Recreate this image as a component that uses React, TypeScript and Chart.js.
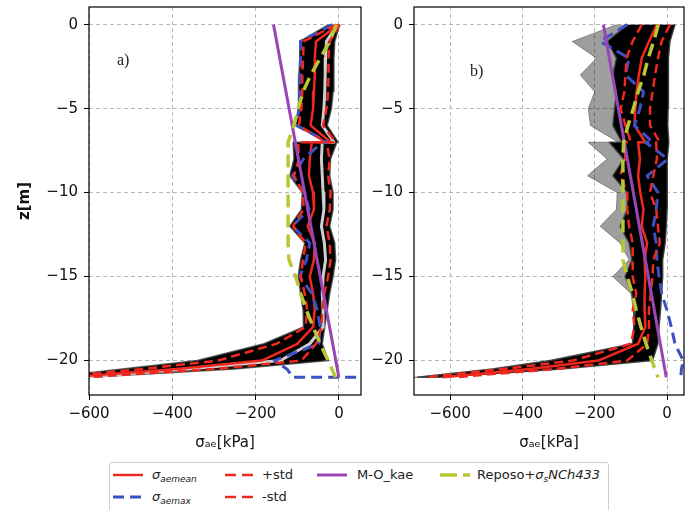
import React, { useEffect, useRef } from "react";
import { Chart, registerables } from "chart.js";

Chart.register(...registerables);
Chart.defaults.font.family = "'DejaVu Sans', sans-serif";

// ---------- shared depths (m) ----------
const depths = [0, -1, -2, -3, -4, -5, -6, -7, -7, -8, -9, -10, -11, -12, -13, -14, -15, -16, -17, -18, -19, -20, -20.5, -21];
const reposoDepths = [0, -1, -2, -3, -4, -5, -6, -7, -8, -9, -10, -11, -12, -13, -14, -15, -16, -17, -18, -19, -20, -21];
const moDepths = [0, -21];
const yTicks = [0, -5, -10, -15, -20];
const xTicks = [-600, -400, -200, 0];

// ---------- panel a) values (kPa) ----------
const aSimLeft = [-25, -94, -94, -96, -96, -98, -104, -30, -110, -108, -118, -88, -90, -118, -82, -92, -98, -92, -86, -85, -180, -340, -520, -700];
const aSimRight = [2, -10, -12, -12, -14, -18, -28, -2, -5, -20, -22, -14, -14, -22, -10, -8, -14, -22, -28, -34, -40, -25, -250, -600];
const aSimLight = [-3, -30, -32, -33, -34, -36, -40, -12, -40, -42, -40, -38, -36, -42, -35, -32, -38, -40, -38, -38, -70, -140, -360, -620];
const aMean = [-2, -55, -58, -58, -60, -62, -68, -20, -65, -70, -72, -62, -60, -75, -58, -60, -70, -62, -58, -62, -100, -185, -390, -650];
const aPlusStd = [-6, -85, -86, -88, -88, -90, -96, -32, -98, -96, -108, -86, -85, -110, -80, -86, -92, -82, -76, -80, -150, -290, -470, -690];
const aMinusStd = [2, -22, -25, -25, -26, -30, -38, -8, -30, -22, -26, -20, -22, -30, -22, -20, -26, -35, -40, -42, -55, -90, -300, -610];
const aMaxDepths = [0, -1, -2, -3, -4, -5, -6, -7, -7, -8, -9, -10, -11, -12, -13, -14, -15, -16, -17, -18, -19, -20, -20.5, -21, -21];
const aMax = [-15, -92, -92, -93, -94, -96, -102, -25, -40, -85, -112, -82, -72, -112, -70, -78, -94, -65, -52, -45, -48, -155, -125, -110, 80];
const aMO = [-157, 0];
const aReposo = [-6, -22, -45, -68, -86, -98, -108, -122, -122, -122, -122, -122, -122, -122, -120, -104, -92, -78, -62, -45, -26, -8];

// ---------- panel b) values (kPa) ----------
const bSimGray = [-140, -262, -195, -240, -200, -218, -212, -135, -218, -166, -220, -138, -140, -185, -130, -105, -150, -100, -93, -92, -97, -330, -490, -700];
const bSimLeft = [-110, -165, -140, -150, -140, -145, -150, -125, -160, -120, -150, -110, -110, -130, -105, -97, -116, -97, -88, -92, -95, -320, -480, -690];
const bSimRight = [22, 8, 5, 4, 3, 3, 2, 5, 5, 2, 0, 0, 0, -2, -5, -12, -12, -15, -18, -22, -25, -40, -290, -630];
const bMean = [-28, -50, -70, -78, -84, -88, -90, -60, -80, -75, -80, -74, -65, -70, -55, -62, -60, -62, -62, -60, -80, -190, -380, -620];
const bPlusStd = [-70, -95, -112, -115, -118, -128, -115, -100, -120, -115, -130, -110, -110, -105, -95, -95, -95, -85, -95, -90, -100, -260, -450, -670];
const bMinusStd = [8, -15, -25, -33, -40, -47, -47, -20, -30, -28, -38, -47, -30, -25, -20, -38, -40, -45, -50, -50, -55, -110, -310, -590];
const bMax = [-110, -185, -105, -115, -65, -75, -90, -40, -60, 2, -55, -25, -30, -38, -30, -28, -22, -15, 0, 12, 22, 45, 40, 38];
const bMO = [-176, -2];
const bReposo = [-24, -37, -52, -64, -80, -93, -108, -120, -122, -122, -122, -122, -122, -122, -122, -110, -96, -85, -72, -58, -42, -25];

const RED = "#f0281e";
const BLUE = "#3d4fc4";
const PURPLE = "#9a45b5";
const YELLOW = "#b9c832";

const pts = (xs: number[], zs: number[]) => xs.map((x, i) => ({ x, y: zs[i] }));
const shape = (left: number[], right: number[], zs: number[]) => [
  ...pts(left, zs),
  ...pts(right, zs).reverse(),
];

const framePlugin = {
  id: "frame",
  afterDatasetsDraw(chart: any) {
    const { ctx, chartArea: a } = chart;
    ctx.save();
    ctx.strokeStyle = "#000";
    ctx.lineWidth = 1.2;
    ctx.strokeRect(a.left, a.top, a.right - a.left, a.bottom - a.top);
    ctx.restore();
  },
};

type Panel = {
  xMin: number;
  xMax: number;
  left: number[];
  right: number[];
  gray?: number[];
  light?: number[];
  mean: number[];
  plus: number[];
  minus: number[];
  maxZ: number[];
  maxV: number[];
  mo: number[];
  rep: number[];
  yTitle: boolean;
  yWidth: number;
  padRight: number;
};

const base = { showLine: true, pointRadius: 0, pointHoverRadius: 0, clip: 0, fill: false, tension: 0, borderJoinStyle: "round" as const };

function makeConfig(p: Panel): any {
  const ds: any[] = [
    { ...base, label: "Reposo", data: pts(p.rep, reposoDepths), borderColor: YELLOW, borderWidth: 3.5, borderDash: [13, 7], order: 0 },
    { ...base, label: "M-O_kae", data: pts(p.mo, moDepths), borderColor: PURPLE, borderWidth: 3, order: 1 },
    { ...base, label: "-std", data: pts(p.minus, depths), borderColor: RED, borderWidth: 2.5, borderDash: [9, 5], order: 2 },
    { ...base, label: "+std", data: pts(p.plus, depths), borderColor: RED, borderWidth: 2.5, borderDash: [9, 5], order: 3 },
    { ...base, label: "max", data: pts(p.maxV, p.maxZ), borderColor: BLUE, borderWidth: 3, borderDash: [11, 6], order: 4 },
    { ...base, label: "mean", data: pts(p.mean, depths), borderColor: RED, borderWidth: 2.5, order: 5 },
  ];
  if (p.light) {
    ds.push({ ...base, label: "sim light", data: pts(p.light, depths), borderColor: "#cfcfcf", borderWidth: 3, order: 6 });
  }
  ds.push({
    ...base,
    label: "sims",
    data: shape(p.left, p.right, depths),
    fill: "shape",
    backgroundColor: "#000",
    borderColor: "rgba(60,60,60,0.8)",
    borderWidth: 1.5,
    order: 7,
  });
  if (p.gray) {
    ds.push({
      ...base,
      label: "sims outer",
      data: shape(p.gray, p.right, depths),
      fill: "shape",
      backgroundColor: "rgba(0,0,0,0.38)",
      borderColor: "rgba(0,0,0,0.35)",
      borderWidth: 1,
      order: 8,
    });
  }
  const tickFont = { size: 15, family: "'DejaVu Sans', sans-serif" };
  return {
    type: "scatter",
    data: { datasets: ds },
    plugins: [framePlugin],
    options: {
      indexAxis: "y",
      animation: false,
      responsive: false,
      devicePixelRatio: 1,
      events: [],
      layout: { padding: { top: 7, right: p.padRight, left: 0, bottom: 0 } },
      plugins: { legend: { display: false }, tooltip: { enabled: false } },
      scales: {
        x: {
          type: "linear",
          min: p.xMin,
          max: p.xMax,
          afterBuildTicks: (s: any) => { s.ticks = xTicks.map((v) => ({ value: v })); },
          afterFit: (s: any) => { s.height = 65; s.paddingLeft = 0; s.paddingRight = 0; },
          ticks: {
            autoSkip: false,
            maxRotation: 0,
            padding: 5,
            color: "#111",
            font: tickFont,
            callback: (v: number) => (v < 0 ? "\u2212" + Math.abs(v) : String(v)),
          },
          grid: { color: "#b8b8b8", lineWidth: 1, tickColor: "#000", tickLength: 5, tickWidth: 1 },
          border: { display: false, dash: [4, 3] },
          title: { display: true, text: "σₐₑ[kPa]", color: "#111", font: { size: 15 }, padding: { top: 0, bottom: 8 } },
        },
        y: {
          type: "linear",
          min: -22.05,
          max: 1.05,
          afterBuildTicks: (s: any) => { s.ticks = yTicks.map((v) => ({ value: v })); },
          afterFit: (s: any) => { s.width = p.yWidth; s.paddingTop = 0; s.paddingBottom = 0; },
          ticks: {
            autoSkip: false,
            padding: 6,
            color: "#111",
            font: tickFont,
            callback: (v: number) => (v < 0 ? "\u2212" + Math.abs(v) : String(v)),
          },
          grid: { color: "#b8b8b8", lineWidth: 1, tickColor: "#000", tickLength: 5, tickWidth: 1 },
          border: { display: false, dash: [4, 3] },
          title: { display: p.yTitle, text: "z[m]", color: "#111", font: { size: 15, weight: "bold" }, padding: { top: 16, bottom: 0 } },
        },
      },
    },
  };
}

const panelA: Panel = {
  xMin: -600, xMax: 53,
  left: aSimLeft, right: aSimRight, light: aSimLight,
  mean: aMean, plus: aPlusStd, minus: aMinusStd,
  maxZ: aMaxDepths, maxV: aMax, mo: aMO, rep: aReposo,
  yTitle: true, yWidth: 89, padRight: 4,
};
const panelB: Panel = {
  xMin: -700, xMax: 47,
  left: bSimLeft, right: bSimRight, gray: bSimGray,
  mean: bMean, plus: bPlusStd, minus: bMinusStd,
  maxZ: depths, maxV: bMax, mo: bMO, rep: bReposo,
  yTitle: false, yWidth: 49, padRight: 1,
};

function Sample({ color, dash, width }: { color: string; dash?: string; width: number }) {
  return (
    <svg width={30} height={18} style={{ display: "block" }}>
      <line x1={0} y1={9} x2={30} y2={9} stroke={color} strokeWidth={width} strokeDasharray={dash} />
    </svg>
  );
}

const subStyle: React.CSSProperties = { fontSize: 9, fontStyle: "italic", position: "relative", top: 3, verticalAlign: "baseline" };

function Item({ x, tx, y, color, dash, width, children }: any) {
  return (
    <>
      <div style={{ position: "absolute", left: x, top: y - 9 }}>
        <Sample color={color} dash={dash} width={width} />
      </div>
      <div style={{ position: "absolute", left: tx, top: y - 9, height: 18, lineHeight: "18px", fontSize: 13, color: "#222", whiteSpace: "nowrap" }}>
        {children}
      </div>
    </>
  );
}

export default function App() {
  const refA = useRef<HTMLCanvasElement>(null);
  const refB = useRef<HTMLCanvasElement>(null);
  useEffect(() => {
    const ca = new Chart(refA.current as HTMLCanvasElement, makeConfig(panelA));
    const cb = new Chart(refB.current as HTMLCanvasElement, makeConfig(panelB));
    return () => {
      ca.destroy();
      cb.destroy();
    };
  }, []);
  return (
    <div style={{ position: "absolute", left: 0, top: 0, width: 685, height: 510, background: "#fff", overflow: "hidden", fontFamily: "'DejaVu Sans', sans-serif" }}>
      <canvas ref={refA} width={365} height={460} style={{ position: "absolute", left: 0, top: 0, width: 365, height: 460 }} />
      <canvas ref={refB} width={320} height={460} style={{ position: "absolute", left: 365, top: 0, width: 320, height: 460 }} />
      <div style={{ position: "absolute", left: 117, top: 52, font: "16px 'Liberation Serif', serif", lineHeight: "16px", color: "#222" }}>a)</div>
      <div style={{ position: "absolute", left: 470, top: 63, font: "16px 'Liberation Serif', serif", lineHeight: "16px", color: "#222" }}>b)</div>
      <div style={{ position: "absolute", left: 109, top: 462, width: 500, height: 52, border: "1px solid #d0d0d0", borderRadius: 3, boxSizing: "border-box" }} />
      <Item x={113} tx={152} y={475} color={RED} width={2.5}>
        <i>σ</i><sub style={subStyle}>aemean</sub>
      </Item>
      <Item x={113} tx={152} y={497} color={BLUE} width={3} dash="11 6">
        <i>σ</i><sub style={subStyle}>aemax</sub>
      </Item>
      <Item x={225} tx={262} y={475} color={RED} width={2.5} dash="11 6">+std</Item>
      <Item x={225} tx={262} y={497} color={RED} width={2.5} dash="11 6">-std</Item>
      <Item x={317} tx={357} y={475} color={PURPLE} width={3}>M-O_kae</Item>
      <Item x={440} tx={477} y={475} color={YELLOW} width={3.5} dash="17 6">
        Reposo+<i>σ</i><sub style={subStyle}>s</sub><i>NCh433</i>
      </Item>
    </div>
  );
}
